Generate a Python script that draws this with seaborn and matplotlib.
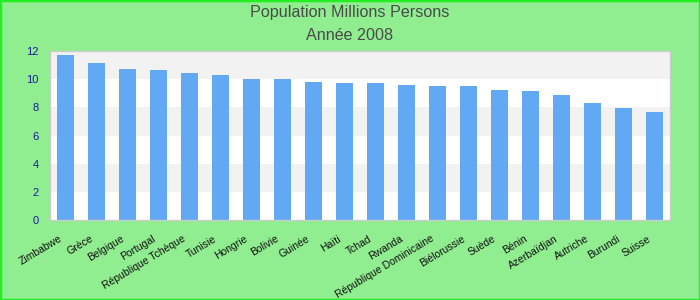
import matplotlib
matplotlib.use("Agg")
import matplotlib.pyplot as plt
import matplotlib.transforms as mtransforms
import seaborn as sns
import pandas as pd
from matplotlib.patches import Rectangle

countries = ["Zimbabwe", "Grèce", "Belgique", "Portugal", "République Tchèque",
             "Tunisie", "Hongrie", "Bolivie", "Guinée", "Haïti", "Tchad", "Rwanda",
             "République Dominicaine", "Biélorussie", "Suède", "Bénin",
             "Azerbaïdjan", "Autriche", "Burundi", "Suisse"]
population = [11.72, 11.15, 10.72, 10.65, 10.44, 10.30, 10.01, 10.00, 9.80, 9.73,
              9.73, 9.59, 9.52, 9.52, 9.23, 9.16, 8.88, 8.31, 7.95, 7.67]
yticks = [0, 2, 4, 6, 8, 10, 12]
title_lines = ["Population Millions Persons", "Année 2008"]

df = pd.DataFrame({"country": countries, "population": population})

sns.set_theme(style="white")
plt.rcParams['font.family'] = ['Liberation Sans', 'DejaVu Sans']

fig = plt.figure(figsize=(7, 3), dpi=100, facecolor="#90ee90")
ax = fig.add_axes([50/700, 1 - 220/300, 620/700, 169/300])
ax.set_facecolor("white")

# alternating bands
for i, lo in enumerate(yticks[:-1]):
    if i % 2 == 1:
        ax.axhspan(lo, lo + 2, color="#f2f2f2", zorder=0, lw=0)

sns.barplot(data=df, x="country", y="population", color="#61a9f3",
            saturation=1, width=0.55, ax=ax, zorder=2)
for p in ax.patches:
    p.set_edgecolor("none")

ax.set_ylim(0, 12)
ax.set_xlim(-0.5, len(countries) - 0.5)
ax.set_yticks(yticks)
ax.set_yticklabels([str(v) for v in yticks], color="#1a1a9c", fontsize=8)
ax.tick_params(axis="y", length=0, pad=8)
ax.tick_params(axis="x", length=0, pad=4)
ax.set_xticks(range(len(countries)))
ax.set_xticklabels(countries, rotation=31, ha="right", rotation_mode="anchor",
                   fontsize=7.5, color="#111111")
offset = mtransforms.ScaledTranslation(-0.07, -0.08, fig.dpi_scale_trans)
for lbl in ax.get_xticklabels():
    lbl.set_transform(lbl.get_transform() + offset)
ax.set_xlabel("")
ax.set_ylabel("")
for s in ax.spines.values():
    s.set_color("#cccccc")
    s.set_linewidth(1)

fig.text(0.5, 1 - 12/300, title_lines[0], ha="center", va="center",
         fontsize=11.6, color="#4a4a4a")
fig.text(0.5, 1 - 36/300, title_lines[1], ha="center", va="center",
         fontsize=11.6, color="#4a4a4a")

fig.patches.append(Rectangle((0, 0), 1, 1, transform=fig.transFigure,
                             fill=False, edgecolor="#22ee22", linewidth=2.5,
                             zorder=10))

fig.savefig("out.png", dpi=100, facecolor=fig.get_facecolor())
